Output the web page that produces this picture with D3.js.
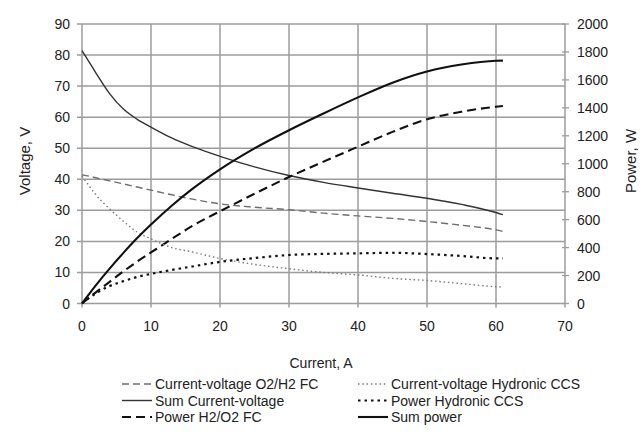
<!DOCTYPE html>
<html>
<head>
<meta charset="utf-8">
<script src="https://cdn.jsdelivr.net/npm/d3@7/dist/d3.min.js"></script>
<style>
  html, body { margin: 0; padding: 0; background: #fff; }
  svg { display: block; }
  text { font-family: "Liberation Sans", Arial, sans-serif; fill: #222; }
</style>
</head>
<body>
<svg id="chart" width="640" height="437"></svg>
<script>
// ---- Data ----
const current = [0, 1, 2, 4, 6, 8, 10, 13, 16, 20, 25, 30, 35, 40, 45, 50, 55, 60, 61];
const cvO2H2 =     [41.4, 41, 40.5, 39.5, 38.5, 37.5, 36.5, 35, 33.6, 32.1, 31, 30.2, 29.1, 28.2, 27.4, 26.4, 25.2, 23.7, 23.2];
const sumCV =      [81.4, 77.9, 74.3, 67.6, 62.6, 59.3, 56.8, 53.3, 50.5, 47.4, 44, 41.2, 39, 37.2, 35.5, 33.9, 31.9, 29.3, 28.6];
const powerH2O2 =  [0, 40, 80, 155, 230, 300, 365, 462, 555, 660, 785, 905, 1015, 1122, 1228, 1318, 1372, 1408, 1413];
const cvHydronic = [41, 38, 35, 30.5, 26.5, 23, 20.8, 18, 16.6, 14.5, 12.6, 11.2, 10, 9.2, 8.1, 7.4, 6.4, 5.4, 5.3];
const powerHydronic = [0, 38, 72, 125, 160, 190, 212, 240, 265, 298, 325, 347, 355, 359, 363, 354, 340, 323, 323];
const sumPower =   [0, 66, 130, 250, 362, 468, 565, 700, 820, 960, 1110, 1240, 1360, 1475, 1580, 1660, 1710, 1737, 1738];

const xTicks = [0, 10, 20, 30, 40, 50, 60, 70];
const yLeftTicks = [0, 10, 20, 30, 40, 50, 60, 70, 80, 90];
const yRightTicks = [0, 200, 400, 600, 800, 1000, 1200, 1400, 1600, 1800, 2000];

const seriesNames = [
  "Current-voltage O2/H2 FC", "Sum Current-voltage", "Power H2/O2 FC",
  "Current-voltage Hydronic CCS", "Power Hydronic CCS", "Sum power"
];

// ---- Styles ----
const styles = [
  { values: cvO2H2, axis: "L", stroke: "#6e6e6e", width: 1.4, dash: "7,4" },
  { values: sumCV, axis: "L", stroke: "#333", width: 1.4, dash: null },
  { values: powerH2O2, axis: "R", stroke: "#111", width: 2.1, dash: "9,5" },
  { values: cvHydronic, axis: "L", stroke: "#7a7a7a", width: 1.4, dash: "1.5,2.8" },
  { values: powerHydronic, axis: "R", stroke: "#111", width: 2.2, dash: "2.5,4" },
  { values: sumPower, axis: "R", stroke: "#111", width: 2.1, dash: null }
];

const svg = d3.select("#chart");
const x = d3.scaleLinear().domain([0, 70]).range([82, 565]);
const yL = d3.scaleLinear().domain([0, 90]).range([303.5, 24]);
const yR = d3.scaleLinear().domain([0, 2000]).range([303.5, 24]);
const gridColor = "#9c9c9c";

// grid
const grid = svg.append("g");
grid.selectAll("line.h").data(yLeftTicks).enter().append("line")
  .attr("x1", x(0) - 5).attr("x2", x(70)).attr("y1", d => yL(d)).attr("y2", d => yL(d))
  .attr("stroke", gridColor).attr("stroke-width", 1.5);
grid.selectAll("line.v").data(xTicks).enter().append("line")
  .attr("x1", d => x(d)).attr("x2", d => x(d)).attr("y1", yL(90)).attr("y2", yL(0) + 4)
  .attr("stroke", gridColor).attr("stroke-width", 1.5);
// right axis ticks
grid.selectAll("line.r").data(yRightTicks).enter().append("line")
  .attr("x1", x(70) - 3).attr("x2", x(70) + 4).attr("y1", d => yR(d)).attr("y2", d => yR(d))
  .attr("stroke", gridColor).attr("stroke-width", 1.3);

// tick labels
svg.append("g").selectAll("text").data(yLeftTicks).enter().append("text")
  .attr("x", 70).attr("y", d => yL(d)).attr("dy", "0.36em").attr("text-anchor", "end")
  .attr("font-size", 14).text(d => d);
svg.append("g").selectAll("text").data(yRightTicks).enter().append("text")
  .attr("x", 577).attr("y", d => yR(d)).attr("dy", "0.36em").attr("text-anchor", "start")
  .attr("font-size", 14).text(d => d);
svg.append("g").selectAll("text").data(xTicks).enter().append("text")
  .attr("x", d => x(d)).attr("y", 326).attr("dy", "0.36em").attr("text-anchor", "middle")
  .attr("font-size", 14).text(d => d);

// axis titles
svg.append("text").attr("transform", "translate(25,161) rotate(-90)")
  .attr("text-anchor", "middle").attr("dy", "0.36em").attr("font-size", 15).text("Voltage, V");
svg.append("text").attr("transform", "translate(631,161) rotate(-90)")
  .attr("text-anchor", "middle").attr("dy", "0.36em").attr("font-size", 15).text("Power, W");
svg.append("text").attr("x", 321).attr("y", 363).attr("dy", "0.36em")
  .attr("text-anchor", "middle").attr("font-size", 14).text("Current, A");

// series
const lineL = d3.line().x((d, i) => x(current[i])).y(d => yL(d)).curve(d3.curveMonotoneX);
const lineR = d3.line().x((d, i) => x(current[i])).y(d => yR(d)).curve(d3.curveMonotoneX);
styles.forEach(s => {
  svg.append("path").datum(s.values)
    .attr("d", s.axis === "L" ? lineL : lineR)
    .attr("fill", "none").attr("stroke", s.stroke).attr("stroke-width", s.width)
    .attr("stroke-dasharray", s.dash).attr("stroke-linejoin", "round");
});

// legend
const legCols = [122, 358];
const legRows = [384, 400.5, 417];
const legend = svg.append("g");
seriesNames.forEach((name, i) => {
  const col = i < 3 ? 0 : 1, row = i % 3;
  const s = styles[i];
  const lx = legCols[col], ly = legRows[row];
  legend.append("line").attr("x1", lx).attr("x2", lx + 30).attr("y1", ly).attr("y2", ly)
    .attr("stroke", s.stroke).attr("stroke-width", s.width).attr("stroke-dasharray", s.dash);
  legend.append("text").attr("x", lx + 33).attr("y", ly).attr("dy", "0.36em")
    .attr("font-size", 14).text(name);
});
</script>
</body>
</html>
